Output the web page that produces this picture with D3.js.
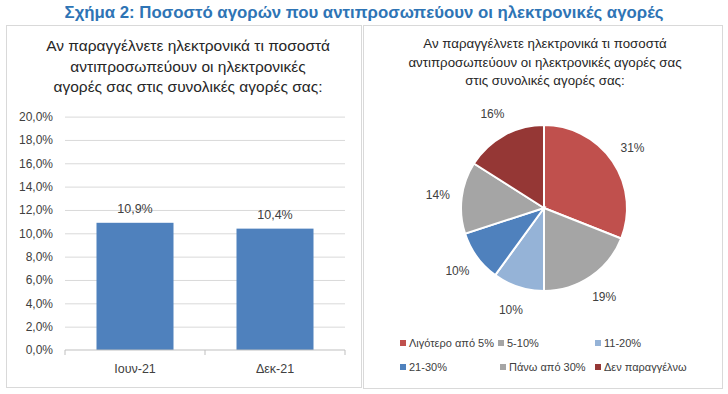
<!DOCTYPE html>
<html>
<head>
<meta charset="utf-8">
<script src="https://cdn.jsdelivr.net/npm/d3@7"></script>
<style>
  body { margin: 0; background: #fff; }
  svg { display: block; font-family: "Liberation Sans", Arial, sans-serif; }
  .main-title { font-weight: bold; font-size: 16.8px; fill: #2e74b5; }
  .panel-title { fill: #262626; }
  .tick-label { font-size: 12px; fill: #404040; }
  .grid line { stroke: #d9d9d9; }
  .legend text { font-size: 11px; fill: #404040; }
</style>
</head>
<body>
<div id="viz_container"></div>
<script>
// bar chart data
const barCategories = ["Ιουν-21", "Δεκ-21"];
const barValues = [10.9, 10.4];
const yTicks = [0, 2, 4, 6, 8, 10, 12, 14, 16, 18, 20];

// pie chart data
const pieLabels = ["Λιγότερο από 5%", "5-10%", "11-20%", "21-30%", "Πάνω από 30%", "Δεν παραγγέλνω"];
const pieValues = [31, 19, 10, 10, 14, 16];
const pieColors = ["#c0504d", "#a5a5a5", "#95b3d7", "#4f81bd", "#a5a5a5", "#953735"];

const fmt = v => d3.format(".1f")(v).replace(".", ",") + "%";

const svg = d3.select("#viz_container")
    .append("svg")
    .attr("width", 728)
    .attr("height", 394);

// main title
svg.append("text")
    .attr("class", "main-title")
    .attr("x", 364)
    .attr("y", 18)
    .attr("text-anchor", "middle")
    .text("Σχήμα 2: Ποσοστό αγορών που αντιπροσωπεύουν οι ηλεκτρονικές αγορές");

// panel borders
svg.append("rect")
    .attr("x", 6.5).attr("y", 25.5).attr("width", 355).attr("height", 362)
    .attr("fill", "none").attr("stroke", "#d9d9d9");
svg.append("rect")
    .attr("x", 363.5).attr("y", 25.5).attr("width", 359).attr("height", 363)
    .attr("fill", "none").attr("stroke", "#d9d9d9");

// ---------- bar chart ----------
const leftTitle = ["Αν παραγγέλνετε ηλεκτρονικά τι ποσοστά", "αντιπροσωπεύουν οι ηλεκτρονικές", "αγορές σας στις συνολικές αγορές σας:"];
svg.append("text")
    .attr("class", "panel-title")
    .attr("text-anchor", "middle")
    .style("font-size", "15.5px")
    .selectAll("tspan")
    .data(leftTitle)
    .join("tspan")
    .attr("x", 188)
    .attr("y", (d, i) => 51 + i * 20.5)
    .text(d => d);

const xScale = d3.scaleBand()
    .domain(barCategories)
    .range([65, 345])
    .paddingInner(0.45)
    .paddingOuter(0.225);

const yScale = d3.scaleLinear()
    .domain([0, 20])
    .range([350, 116.6]);

// grid lines
svg.append("g")
    .attr("class", "grid")
    .attr("transform", "translate(65,0)")
    .call(d3.axisLeft(yScale).tickValues(yTicks.slice(1)).tickSize(-280).tickFormat(""))
    .call(g => g.select(".domain").remove());

// y labels
svg.append("g")
    .attr("transform", "translate(65,0)")
    .call(d3.axisLeft(yScale).tickValues(yTicks).tickSize(0).tickPadding(12).tickFormat(fmt))
    .call(g => g.select(".domain").remove())
    .call(g => g.selectAll("text").attr("class", "tick-label").attr("font-family", null).attr("font-size", null));

// bars
svg.selectAll(".bar")
    .data(barValues)
    .join("rect")
    .attr("class", "bar")
    .attr("x", (d, i) => xScale(barCategories[i]))
    .attr("y", d => yScale(d))
    .attr("width", xScale.bandwidth())
    .attr("height", d => yScale(0) - yScale(d))
    .attr("fill", "#4f81bd");

// value labels
svg.selectAll(".bar-label")
    .data(barValues)
    .join("text")
    .attr("class", "tick-label")
    .attr("x", (d, i) => xScale(barCategories[i]) + xScale.bandwidth() / 2)
    .attr("y", d => yScale(d) - 10)
    .attr("text-anchor", "middle")
    .style("font-size", "12.5px")
    .text(fmt);

// x axis
const xAxis = svg.append("g")
    .attr("transform", "translate(0,350)");
xAxis.append("line")
    .attr("x1", 65).attr("x2", 345)
    .attr("stroke", "#bfbfbf");
xAxis.selectAll(".xtick")
    .data([65, 205, 345])
    .join("line")
    .attr("x1", d => d).attr("x2", d => d)
    .attr("y1", 0).attr("y2", 5)
    .attr("stroke", "#bfbfbf");
xAxis.selectAll(".xlabel")
    .data(barCategories)
    .join("text")
    .attr("class", "tick-label")
    .attr("x", d => xScale(d) + xScale.bandwidth() / 2)
    .attr("y", 23)
    .attr("text-anchor", "middle")
    .style("font-size", "12.5px")
    .text(d => d);

// ---------- pie chart ----------
const rightTitle = ["Αν παραγγέλνετε ηλεκτρονικά τι ποσοστά", "αντιπροσωπεύουν οι ηλεκτρονικές αγορές σας", "στις συνολικές αγορές σας:"];
svg.append("text")
    .attr("class", "panel-title")
    .attr("text-anchor", "middle")
    .style("font-size", "13.3px")
    .selectAll("tspan")
    .data(rightTitle)
    .join("tspan")
    .attr("x", 545)
    .attr("y", (d, i) => 48 + i * 18.5)
    .text(d => d);

const cx = 544, cy = 208, radius = 83;
const pie = d3.pie().sort(null).value(d => d)(pieValues);
const arc = d3.arc().innerRadius(0).outerRadius(radius);
const labelArc = d3.arc().innerRadius(107).outerRadius(107);

const pieG = svg.append("g").attr("transform", `translate(${cx},${cy})`);
pieG.selectAll("path")
    .data(pie)
    .join("path")
    .attr("d", arc)
    .attr("fill", (d, i) => pieColors[i])
    .attr("stroke", "#fff")
    .attr("stroke-width", 2);

pieG.selectAll(".pie-label")
    .data(pie)
    .join("text")
    .attr("class", "tick-label")
    .attr("transform", d => `translate(${labelArc.centroid(d)})`)
    .attr("text-anchor", "middle")
    .attr("dy", "0.35em")
    .text(d => d.data + "%");

// legend
const legendPos = [[403, 343], [501, 343], [598, 343], [403, 367], [503, 367], [598, 367]];
const legend = svg.append("g").attr("class", "legend");
const items = legend.selectAll("g")
    .data(pieLabels)
    .join("g")
    .attr("transform", (d, i) => `translate(${legendPos[i][0]},${legendPos[i][1]})`);
items.append("rect")
    .attr("x", -3).attr("y", -3)
    .attr("width", 6).attr("height", 6)
    .attr("fill", (d, i) => pieColors[i]);
items.append("text")
    .attr("x", 6)
    .attr("dy", "0.35em")
    .text(d => d);
</script>
</body>
</html>
